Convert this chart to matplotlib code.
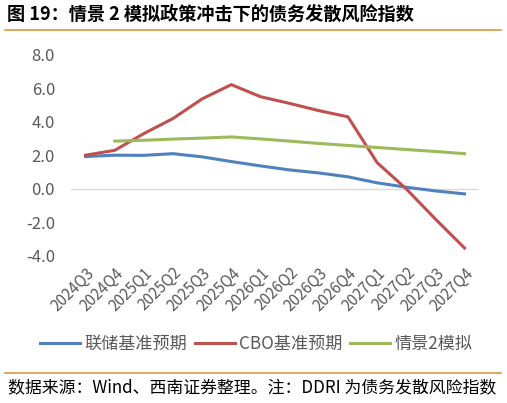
import matplotlib
matplotlib.use("Agg")
import matplotlib.pyplot as plt
from matplotlib.lines import Line2D

plt.rcParams['font.family'] = ['Noto Sans CJK SC', 'DejaVu Sans']

quarters = ["2024Q3", "2024Q4", "2025Q1", "2025Q2", "2025Q3", "2025Q4", "2026Q1",
            "2026Q2", "2026Q3", "2026Q4", "2027Q1", "2027Q2", "2027Q3", "2027Q4"]
fed = [1.93, 2.01, 2.00, 2.10, 1.91, 1.63, 1.37, 1.13, 0.95, 0.72, 0.36, 0.10, -0.12, -0.30]
cbo = [2.01, 2.30, 3.30, 4.20, 5.37, 6.22, 5.50, 5.10, 4.67, 4.30, 1.57, 0.00, -1.80, -3.53]
scen2 = [None, 2.85, 2.90, 2.97, 3.03, 3.10, 2.98, 2.85, 2.71, 2.59, 2.47, 2.35, 2.23, 2.10]
series_names = ["联储基准预期", "CBO基准预期", "情景2模拟"]
yticks = [-4.0, -2.0, 0.0, 2.0, 4.0, 6.0, 8.0]

colors = ["#4F81BD", "#C0504D", "#9BBB59"]
gray = "#595959"

fig = plt.figure(figsize=(5.07, 4.03), dpi=100)
ax = fig.add_axes([0.140, 0.365, 0.805, 0.499])

x = list(range(len(quarters)))
ax.plot(x, fed, color=colors[0], lw=2.2, solid_joinstyle='round')
ax.plot(x, cbo, color=colors[1], lw=2.2, solid_joinstyle='round')
xs = [i for i, v in zip(x, scen2) if v is not None]
ys = [v for v in scen2 if v is not None]
ax.plot(xs, ys, color=colors[2], lw=2.2, solid_joinstyle='round')

ax.axhline(0, color="#D9D9D9", lw=1.0, zorder=0)
ax.set_xlim(-0.5, len(quarters) - 0.5)
ax.set_ylim(-4, 8)
ax.set_yticks(yticks)
ax.set_yticklabels([f"{v:.1f}" for v in yticks], color=gray, fontsize=12)
ax.set_xticks(x)
ax.set_xticklabels(quarters, rotation=45, ha='right', rotation_mode='anchor',
                   color=gray, fontsize=11)
ax.tick_params(axis='both', length=0)
ax.tick_params(axis='y', pad=11.5)
ax.tick_params(axis='x', pad=6)
for s in ax.spines.values():
    s.set_visible(False)

# Title
fig.text(7 / 507, 1 - 14.5 / 403, "图 19：情景 2 模拟政策冲击下的债务发散风险指数",
         fontsize=13.1, fontweight='bold', color='black', va='center', ha='left')
# Orange rules
fig.add_artist(Line2D([5 / 507, 501 / 507], [1 - 30 / 403, 1 - 30 / 403],
                      color="#D89B3C", lw=1.2))
fig.add_artist(Line2D([5 / 507, 501 / 507], [1 - 372.5 / 403, 1 - 372.5 / 403],
                      color="#D89B3C", lw=1.2))

# Legend
handles = [Line2D([], [], color=c, lw=2.2) for c in colors]
leg = fig.legend(handles, series_names, loc='center', bbox_to_anchor=(0.505, 1 - 344 / 403),
                 ncol=3, frameon=False, fontsize=12.3, handlelength=2.35, handletextpad=0.25,
                 columnspacing=0.45)
for t in leg.get_texts():
    t.set_color(gray)

# Source
fig.text(8 / 507, 1 - 388 / 403,
         "数据来源：Wind、西南证券整理。注：DDRI 为债务发散风险指数",
         fontsize=12.2, style='italic', color='black', va='center', ha='left')

fig.savefig("out.png", dpi=100)
